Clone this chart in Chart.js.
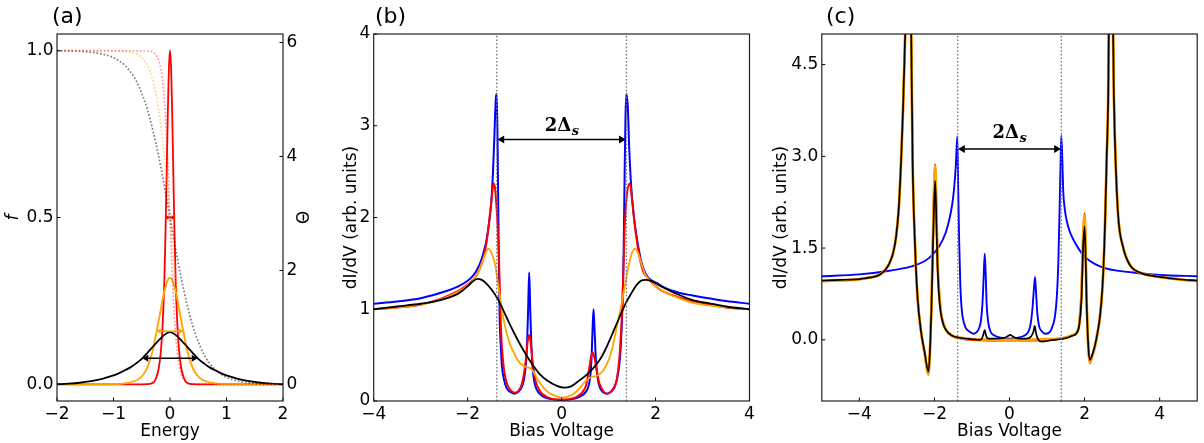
<!DOCTYPE html>
<html>
<head>
<meta charset="utf-8">
<script src="https://cdn.jsdelivr.net/npm/chart.js@4.4.1/dist/chart.umd.min.js"></script>
<style>
  body { margin:0; background:#fff; width:1204px; height:443px; position:relative; overflow:hidden; font-family:"DejaVu Sans",sans-serif; }
  canvas { position:absolute; top:0; }
  .tag { position:absolute; font-size:22px; line-height:22px; color:#000; }
</style>
</head>
<body>
<canvas id="ca" width="320" height="443" style="left:0"></canvas>
<canvas id="cb" width="440" height="443" style="left:320px"></canvas>
<canvas id="cc" width="444" height="443" style="left:760px"></canvas>
<div class="tag" style="left:52px;top:5px">(a)</div>
<div class="tag" style="left:375px;top:5px">(b)</div>
<div class="tag" style="left:826px;top:5px">(c)</div>
<script>
// ---- panel (a): Fermi functions (f) and their derivatives (theta)
const aXTicks = [-2, -1, 0, 1, 2];
const aXLabels = ['\u22122', '\u22121', '0', '1', '2'];
const aFTicks = [0, 0.5, 1];
const aFLabels = ['0.0', '0.5', '1.0'];
const aThTicks = [0, 2, 4, 6];
const aThLabels = ['0', '2', '4', '6'];

const aGreyFX = [-2,-1.5,-1.2,-1,-0.8,-0.6,-0.4,-0.2,0,0.2,0.4,0.6,0.8,1,1.2,1.5,2];
const aGreyF = [1.0,0.997,0.99,0.979,0.956,0.91,0.823,0.683,0.5,0.317,0.177,0.09,0.044,0.021,0.01,0.003,0.0];
const aOrangeFX = [-2,-1,-0.8,-0.6,-0.5,-0.4,-0.3,-0.2,-0.1,0,0.1,0.2,0.3,0.4,0.5,0.6,0.8,1,2];
const aOrangeF = [1,1,0.998,0.99,0.979,0.956,0.909,0.823,0.683,0.5,0.317,0.177,0.091,0.044,0.021,0.01,0.002,0,0];
const aRedFX = [-2,-0.4,-0.3,-0.2,-0.15,-0.1,-0.05,0,0.05,0.1,0.15,0.2,0.3,0.4,2];
const aRedF = [1,0.999,0.995,0.971,0.933,0.853,0.706,0.5,0.294,0.147,0.067,0.029,0.005,0.001,0];

const aRedX = [-2,-0.6,-0.4,-0.3,-0.25,-0.2,-0.16,-0.13,-0.1,-0.08,-0.06,-0.04,-0.02,0,0.02,0.04,0.06,0.08,0.1,0.13,0.16,0.2,0.25,0.3,0.4,0.6,2];
const aRedY = [0,0,0.005,0.03,0.1,0.28,0.6,1.05,1.82,2.64,3.65,4.71,5.54,5.86,5.54,4.71,3.65,2.64,1.82,1.05,0.6,0.28,0.1,0.03,0.005,0,0];
const aOrangeX = [-2,-1.5,-1.2,-1,-0.8,-0.6,-0.5,-0.4,-0.3,-0.24,-0.2,-0.15,-0.1,-0.05,0,0.05,0.1,0.15,0.2,0.24,0.3,0.4,0.5,0.6,0.8,1,1.2,1.5,2];
const aOrangeY = [0,0,0.001,0.004,0.019,0.07,0.14,0.3,0.62,0.917,1.119,1.388,1.632,1.806,1.87,1.806,1.632,1.388,1.119,0.917,0.62,0.3,0.14,0.07,0.019,0.004,0.001,0,0];
const aBlackX = [-2,-1.8,-1.6,-1.4,-1.2,-1.1,-1,-0.9,-0.8,-0.7,-0.6,-0.5,-0.4,-0.3,-0.2,-0.1,0,0.1,0.2,0.3,0.4,0.5,0.6,0.7,0.8,0.9,1,1.1,1.2,1.4,1.6,1.8,2];
const aBlackY = [0.005,0.014,0.03,0.058,0.1,0.128,0.16,0.2,0.25,0.3,0.37,0.45,0.555,0.665,0.775,0.87,0.92,0.87,0.775,0.665,0.555,0.45,0.37,0.3,0.25,0.2,0.16,0.128,0.1,0.058,0.03,0.014,0.005];

// half-maximum bars
const aRedBarX = [-0.05, 0.05];
const aOrangeBarX = [-0.19, 0.19];
const aBlackBarX = [-0.42, 0.42];
const aBarY = [2.93, 0.935, 0.46];

// ---- panel (b)
const bXTicks = [-4, -2, 0, 2, 4];
const bXLabels = ['\u22124', '\u22122', '0', '2', '4'];
const bYTicks = [0, 1, 2, 3, 4];
const bYLabels = ['0', '1', '2', '3', '4'];

const bBlueX = [-4,-3.5,-3,-2.5,-2.2,-2,-1.88,-1.8,-1.7,-1.66,-1.6,-1.55,-1.5,-1.46,-1.43,-1.4,-1.38,-1.36,-1.34,-1.32,-1.29,-1.27,-1.22,-1.17,-1.1,-1,-0.92,-0.85,-0.8,-0.76,-0.73,-0.71,-0.69,-0.67,-0.65,-0.62,-0.59,-0.55,-0.5,-0.4,-0.3,-0.15,0,0.15,0.3,0.4,0.5,0.55,0.59,0.62,0.64,0.66,0.68,0.7,0.73,0.77,0.82,0.9,0.97,1.05,1.12,1.18,1.23,1.26,1.29,1.32,1.34,1.36,1.38,1.41,1.44,1.48,1.53,1.6,1.73,2.08,2.5,2.79,3.5,4];
const bBlueY = [1.06,1.085,1.12,1.19,1.25,1.31,1.37,1.43,1.55,1.62,1.75,1.92,2.15,2.5,2.9,3.3,3.35,2.7,1.7,0.95,0.55,0.38,0.22,0.14,0.1,0.08,0.1,0.15,0.24,0.4,0.7,1.05,1.4,1.05,0.7,0.38,0.24,0.15,0.1,0.05,0.03,0.015,0.01,0.015,0.03,0.05,0.09,0.13,0.2,0.32,0.5,0.8,1.0,0.8,0.45,0.24,0.14,0.09,0.08,0.1,0.15,0.24,0.4,0.6,0.95,1.6,2.4,3.1,3.35,3.2,2.75,2.35,2.05,1.78,1.46,1.27,1.18,1.15,1.09,1.06];
const bRedX = [-4,-3.5,-3,-2.5,-2.2,-2,-1.88,-1.8,-1.7,-1.66,-1.6,-1.55,-1.5,-1.47,-1.45,-1.42,-1.39,-1.36,-1.33,-1.31,-1.29,-1.24,-1.18,-1.13,-1.05,-0.99,-0.92,-0.85,-0.8,-0.75,-0.72,-0.69,-0.66,-0.61,-0.57,-0.53,-0.45,-0.39,-0.3,-0.15,0,0.15,0.3,0.39,0.45,0.52,0.58,0.62,0.66,0.7,0.75,0.8,0.84,0.9,0.98,1.05,1.13,1.18,1.23,1.27,1.3,1.34,1.39,1.45,1.5,1.55,1.6,1.66,1.73,1.8,2.08,2.5,2.79,3.5,4];
const bRedY = [1.0,1.02,1.05,1.13,1.2,1.27,1.32,1.38,1.5,1.57,1.72,1.92,2.15,2.3,2.37,2.33,2.15,1.9,1.5,1.1,0.77,0.4,0.22,0.15,0.1,0.09,0.11,0.18,0.3,0.5,0.66,0.72,0.64,0.4,0.26,0.18,0.1,0.07,0.04,0.02,0.015,0.02,0.04,0.07,0.1,0.17,0.33,0.46,0.53,0.47,0.33,0.2,0.15,0.1,0.08,0.1,0.15,0.25,0.47,0.8,1.13,1.86,2.25,2.37,2.2,1.95,1.75,1.57,1.42,1.36,1.22,1.13,1.09,1.02,1.0];
const bOrangeX = [-4,-3.5,-3,-2.5,-2.2,-2,-1.88,-1.8,-1.7,-1.62,-1.56,-1.5,-1.45,-1.41,-1.36,-1.31,-1.24,-1.17,-1.1,-1.02,-0.95,-0.88,-0.8,-0.74,-0.68,-0.63,-0.58,-0.53,-0.45,-0.38,-0.32,-0.2,-0.1,0,0.1,0.24,0.35,0.45,0.52,0.59,0.66,0.73,0.8,0.88,0.95,1.02,1.09,1.16,1.22,1.27,1.32,1.37,1.42,1.47,1.51,1.56,1.62,1.68,1.74,1.8,1.9,2.08,2.5,2.79,3,3.5,4];
const bOrangeY = [1.0,1.02,1.05,1.12,1.19,1.26,1.32,1.38,1.5,1.61,1.66,1.62,1.55,1.47,1.3,1.13,0.9,0.74,0.62,0.53,0.46,0.41,0.38,0.37,0.36,0.34,0.3,0.25,0.19,0.14,0.11,0.07,0.05,0.036,0.045,0.07,0.12,0.18,0.22,0.25,0.265,0.27,0.29,0.33,0.39,0.47,0.6,0.77,0.92,1.04,1.18,1.32,1.46,1.57,1.63,1.66,1.62,1.53,1.43,1.36,1.3,1.22,1.12,1.07,1.05,1.02,1.0];
const bBlackX = [-4,-3.5,-3,-2.58,-2.2,-2,-1.9,-1.79,-1.7,-1.6,-1.5,-1.38,-1.27,-1.17,-1,-0.81,-0.65,-0.46,-0.3,-0.1,0.05,0.2,0.38,0.52,0.66,0.85,1.02,1.12,1.23,1.37,1.48,1.59,1.69,1.79,1.9,2.08,2.44,2.79,3.15,3.5,4];
const bBlackY = [1.0,1.03,1.06,1.1,1.17,1.25,1.3,1.33,1.32,1.28,1.22,1.13,1.02,0.91,0.73,0.55,0.42,0.29,0.22,0.165,0.145,0.16,0.225,0.28,0.35,0.48,0.66,0.78,0.91,1.07,1.17,1.26,1.31,1.32,1.31,1.26,1.17,1.1,1.065,1.03,1.0];

const bGapX = [-1.38, 1.38];
const bArrowX = [-1.27, 1.27];
const bArrowY = 2.85;
const bLabelAt = [0, 2.94];

// ---- panel (c)
const cXTicks = [-4, -2, 0, 2, 4];
const cXLabels = ['\u22124', '\u22122', '0', '2', '4'];
const cYTicks = [0, 1.5, 3, 4.5];
const cYLabels = ['0.0', '1.5', '3.0', '4.5'];

const cBlueX = [-5,-4,-3.2,-2.5,-2.14,-1.88,-1.7,-1.61,-1.53,-1.48,-1.43,-1.39,-1.37,-1.34,-1.31,-1.28,-1.25,-1.17,-1.08,-0.95,-0.87,-0.81,-0.76,-0.72,-0.69,-0.66,-0.63,-0.61,-0.57,-0.51,-0.4,-0.2,0,0.2,0.4,0.5,0.56,0.61,0.64,0.68,0.71,0.74,0.79,0.86,0.95,1.04,1.12,1.21,1.26,1.3,1.33,1.36,1.38,1.41,1.43,1.47,1.52,1.6,1.7,1.96,2.41,3.3,4,5];
const cBlueY = [1.04,1.07,1.13,1.22,1.34,1.52,1.75,1.95,2.2,2.45,2.85,3.33,2.6,1.6,0.9,0.55,0.38,0.2,0.14,0.1,0.13,0.19,0.32,0.6,1.0,1.41,1.0,0.6,0.3,0.14,0.07,0.03,0.02,0.03,0.07,0.13,0.25,0.5,0.75,1.03,0.75,0.44,0.22,0.14,0.1,0.11,0.18,0.38,0.7,1.25,2.0,2.89,3.34,2.9,2.45,2.15,1.96,1.78,1.64,1.39,1.2,1.1,1.06,1.04];
const cOuterX = [-5,-4.5,-4.08,-3.7,-3.47,-3.3,-3.2,-3.1,-3.02,-2.95,-2.89,-2.84,-2.8,-2.76,-2.72,-2.69,-2.66,-2.63,-2.58,-2.52,-2.45,-2.36,-2.26,-2.16,-2.12,-2.08,-2.05,-2.01,-1.98,-1.95,-1.92,-1.88,-1.83,-1.76,-1.7,-1.54,-1.28,-1,0,1,1.35,1.52,1.69,1.79,1.86,1.92,1.96,2.0,2.03,2.05,2.1,2.14,2.2,2.27,2.34,2.41,2.48,2.54,2.59,2.63,2.66,2.7,2.74,2.78,2.8,2.89,3.02,3.2,3.47,4.0,4.5,5];
const cOrangeY = [0.96,0.975,0.985,1.02,1.06,1.15,1.25,1.42,1.69,2.15,2.89,3.7,4.53,5.6,8,9,8,5.6,2.9,1.6,0.7,0.15,-0.22,-0.56,-0.2,0.55,1.35,2.4,2.84,2.2,1.35,0.8,0.46,0.26,0.17,0.07,0.03,0.01,0.0,0.01,0.02,0.04,0.08,0.12,0.27,0.78,1.65,2.04,1.4,0.75,-0.12,-0.37,-0.27,-0.12,0.1,0.38,0.9,1.8,3.0,4.0,6,9,6,4.0,3.44,2.07,1.53,1.23,1.1,1.03,0.99,0.96];
const cRedY = [0.96,0.975,0.985,1.02,1.06,1.15,1.25,1.42,1.69,2.15,2.89,3.7,4.53,5.6,8,9,8,5.6,2.9,1.6,0.7,0.15,-0.22,-0.57,-0.2,0.55,1.35,2.4,2.87,2.2,1.35,0.8,0.46,0.26,0.17,0.07,0.02,0.0,-0.01,0.0,0.02,0.04,0.08,0.12,0.27,0.78,1.65,2.07,1.4,0.75,-0.12,-0.38,-0.27,-0.12,0.1,0.38,0.9,1.8,3.0,4.0,6,9,6,4.0,3.44,2.07,1.53,1.23,1.1,1.03,0.99,0.96];
const cBlackX = [-5,-4.5,-4.08,-3.7,-3.47,-3.3,-3.2,-3.1,-3.02,-2.95,-2.89,-2.84,-2.8,-2.76,-2.72,-2.69,-2.66,-2.63,-2.58,-2.52,-2.45,-2.36,-2.26,-2.16,-2.12,-2.08,-2.05,-2.01,-1.98,-1.95,-1.92,-1.88,-1.83,-1.76,-1.7,-1.54,-1.28,-1,-0.84,-0.75,-0.7,-0.66,-0.62,-0.57,-0.4,-0.15,-0.05,0.02,0.1,0.25,0.45,0.58,0.64,0.67,0.71,0.77,0.86,1.08,1.35,1.52,1.69,1.79,1.86,1.92,1.96,2.0,2.03,2.05,2.1,2.14,2.2,2.27,2.34,2.41,2.48,2.54,2.59,2.63,2.66,2.7,2.74,2.78,2.8,2.89,3.02,3.2,3.47,4.0,4.5,5];
const cBlackY = [0.97,0.98,0.99,1.02,1.06,1.15,1.25,1.42,1.69,2.15,2.89,3.7,4.53,5.6,8,9,8,5.6,2.9,1.6,0.7,0.15,-0.2,-0.52,-0.2,0.5,1.25,2.2,2.6,2.0,1.25,0.75,0.44,0.25,0.17,0.07,0.03,0.01,0.0,0.01,0.08,0.16,0.06,0.02,0.02,0.03,0.06,0.08,0.05,0.02,0.02,0.06,0.14,0.23,0.1,0.0,-0.03,-0.01,0.01,0.03,0.07,0.11,0.25,0.71,1.5,1.85,1.3,0.71,-0.11,-0.33,-0.25,-0.11,0.1,0.38,0.9,1.8,3.0,4.0,6,9,6,4.0,3.44,2.07,1.53,1.23,1.1,1.03,0.99,0.97];

const cGapX = [-1.38, 1.38];
const cArrowX = [-1.25, 1.25];
const cArrowY = 3.12;
const cLabelAt = [0, 3.3];

// ---- helpers
const BLUE = '#0000ff', RED = '#ff0000', ORANGE = '#ffa500', BLACK = '#000000';
const tickFont = { family: 'DejaVu Sans', size: 17 };

function pts(xs, ys) {
  return xs.map((x, i) => ({ x: x, y: Array.isArray(ys) ? ys[i] : ys }));
}

function curve(xs, ys, color, width, axis) {
  return { data: pts(xs, ys), borderColor: color, borderWidth: width, pointRadius: 0,
           fill: false, cubicInterpolationMode: 'monotone', yAxisID: axis || 'y' };
}

function dotted(xs, ys, color, axis) {
  return { data: pts(xs, ys), borderColor: color, borderWidth: 1.7, borderDash: [1.7, 1.9],
           pointRadius: 0, fill: false, cubicInterpolationMode: 'monotone', yAxisID: axis || 'y' };
}

function vline(x, lo, hi) {
  return { data: [{ x: x, y: lo }, { x: x, y: hi }], borderColor: '#777', borderWidth: 1.3,
           borderDash: [1.6, 2.0], pointRadius: 0, fill: false };
}

function arrow(xs, y, color, r, axis) {
  return { data: pts(xs, y), borderColor: color, borderWidth: 1.6, pointStyle: 'triangle',
           pointRadius: r, pointRotation: [-90, 90], pointBackgroundColor: color,
           pointBorderColor: color, pointBorderWidth: 0, fill: false, yAxisID: axis || 'y' };
}

function xScale(min, max, ticks, labels, title) {
  return {
    type: 'linear', position: 'bottom', min: min, max: max,
    grid: { display: false, drawTicks: false }, border: { display: false },
    afterBuildTicks: s => { s.ticks = ticks.map(v => ({ value: v })); },
    ticks: { autoSkip: false, maxRotation: 0, padding: 3, color: '#000', font: tickFont,
             callback: (v, i) => labels[i] },
    title: { display: true, text: title, color: '#000', font: tickFont, padding: { top: 0, bottom: 1.5 } },
    afterFit: s => { s.height = 42; }
  };
}

function yScale(pos, min, max, ticks, labels, title, width, tpad, italic) {
  return {
    type: 'linear', position: pos, min: min, max: max,
    grid: { display: false, drawTicks: false }, border: { display: false },
    afterBuildTicks: s => { s.ticks = ticks.map(v => ({ value: v })); },
    ticks: { autoSkip: false, padding: 3.5, color: '#000', font: tickFont,
             callback: (v, i) => labels[i] },
    title: { display: true, text: title, color: '#000',
             font: { family: 'DejaVu Sans', size: 17, style: italic ? 'italic' : 'normal' },
             padding: { top: tpad, bottom: 0 } },
    afterFit: s => { s.width = width; }
  };
}

// inward tick marks and the box round the plot
const frameTicks = {
  id: 'frameTicks',
  afterDatasetsDraw(chart) {
    const { ctx, chartArea: a } = chart;
    ctx.save();
    ctx.strokeStyle = '#000';
    ctx.lineWidth = 1;
    Object.values(chart.scales).forEach(s => {
      s.ticks.forEach(t => {
        const p = s.getPixelForValue(t.value);
        ctx.beginPath();
        if (s.position === 'bottom') { ctx.moveTo(p, a.bottom); ctx.lineTo(p, a.bottom - 3.5); }
        else if (s.position === 'left') { ctx.moveTo(a.left, p); ctx.lineTo(a.left + 3.5, p); }
        else { ctx.moveTo(a.right, p); ctx.lineTo(a.right - 3.5, p); }
        ctx.stroke();
      });
    });
    ctx.strokeStyle = '#222';
    ctx.lineWidth = 1.2;
    ctx.strokeRect(a.left, a.top, a.right - a.left, a.bottom - a.top);
    ctx.restore();
  }
};

// the "2Δs" text over the gap arrow
const gapText = {
  id: 'gapText',
  afterDatasetsDraw(chart, args, opts) {
    if (!opts.at) return;
    const ctx = chart.ctx;
    const x = chart.scales.x.getPixelForValue(opts.at[0]);
    const y = chart.scales.y.getPixelForValue(opts.at[1]);
    ctx.save();
    ctx.fillStyle = '#000';
    ctx.textBaseline = 'alphabetic';
    ctx.font = 'bold 18px "DejaVu Serif"';
    const w1 = ctx.measureText('2\u0394').width;
    ctx.font = 'italic bold 13px "DejaVu Serif"';
    const w2 = ctx.measureText('s').width;
    const left = x - (w1 + w2) / 2;
    ctx.font = 'bold 18px "DejaVu Serif"';
    ctx.fillText('2\u0394', left, y);
    ctx.font = 'italic bold 13px "DejaVu Serif"';
    ctx.fillText('s', left + w1 + 0.5, y + 4);
    ctx.restore();
  }
};

function make(id, datasets, scales, padding, labelAt) {
  return new Chart(document.getElementById(id), {
    type: 'line',
    data: { datasets: datasets },
    options: {
      responsive: false, animation: false, devicePixelRatio: 1, events: [],
      layout: { padding: padding },
      plugins: { legend: { display: false }, tooltip: { enabled: false }, gapText: { at: labelAt } },
      scales: scales
    },
    plugins: [frameTicks, gapText]
  });
}

// ---- (a)
make('ca', [
  arrow(aBlackBarX, aBarY[2], BLACK, 4, 'y2'),
  arrow(aOrangeBarX, aBarY[1], ORANGE, 3, 'y2'),
  arrow(aRedBarX, aBarY[0], RED, 2.5, 'y2'),
  dotted(aRedFX, aRedF, 'rgba(255,0,0,0.4)'),
  dotted(aOrangeFX, aOrangeF, 'rgba(255,165,0,0.45)'),
  dotted(aGreyFX, aGreyF, 'rgba(0,0,0,0.5)'),
  curve(aBlackX, aBlackY, BLACK, 1.8, 'y2'),
  curve(aOrangeX, aOrangeY, ORANGE, 1.8, 'y2'),
  curve(aRedX, aRedY, RED, 1.8, 'y2')
], {
  x: xScale(-2, 2, aXTicks, aXLabels, 'Energy'),
  y: yScale('left', -0.05, 1.05, aFTicks, aFLabels, 'f', 57, 3.3, true),
  y2: yScale('right', -0.29, 6.15, aThTicks, aThLabels, '\u0398', 37, 9.8, false)
}, { top: 34, left: 0, right: 0, bottom: 0 }, null);

// ---- (b)
make('cb', [
  arrow(bArrowX, bArrowY, BLACK, 4.5),
  vline(bGapX[0], 0, 4),
  vline(bGapX[1], 0, 4),
  curve(bBlackX, bBlackY, BLACK, 1.8),
  curve(bOrangeX, bOrangeY, ORANGE, 1.8),
  curve(bRedX, bRedY, RED, 2),
  curve(bBlueX, bBlueY, BLUE, 2)
], {
  x: xScale(-4, 4, bXTicks, bXLabels, 'Bias Voltage'),
  y: yScale('left', 0, 4, bYTicks, bYLabels, 'dI/dV (arb. units)', 53.7, 21.5, false)
}, { top: 34, left: 0, right: 10.5, bottom: 0 }, bLabelAt);

// ---- (c)
make('cc', [
  arrow(cArrowX, cArrowY, BLACK, 4.5),
  vline(cGapX[0], -1, 5),
  vline(cGapX[1], -1, 5),
  curve(cBlackX, cBlackY, BLACK, 1.7),
  curve(cOuterX, cOrangeY, ORANGE, 2.8),
  curve(cOuterX, cRedY, RED, 2.2),
  curve(cBlueX, cBlueY, BLUE, 1.9)
], {
  x: xScale(-5, 5, cXTicks, cXLabels, 'Bias Voltage'),
  y: yScale('left', -1, 5, cYTicks, cYLabels, 'dI/dV (arb. units)', 61.8, 11.5, false)
}, { top: 34, left: 0, right: 6.8, bottom: 0 }, cLabelAt);
</script>
</body>
</html>
